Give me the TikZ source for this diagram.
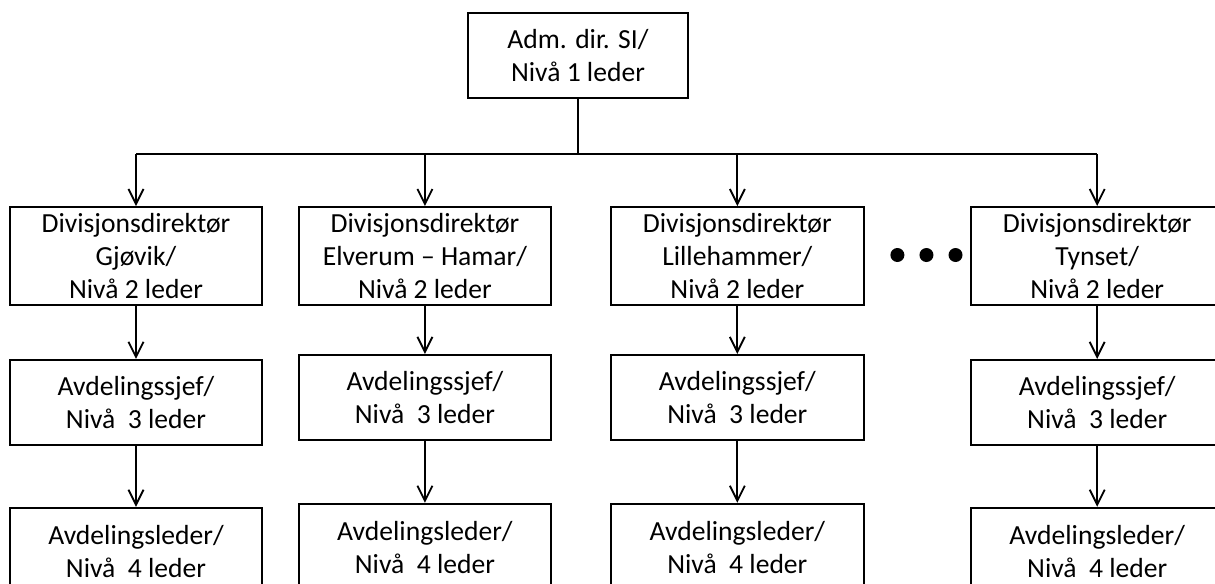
\documentclass[tikz,border=0pt]{standalone}
\usepackage{fontspec}
\setmainfont{Carlito}
\usetikzlibrary{arrows.meta,positioning}

\begin{document}
\begin{tikzpicture}[
    node distance=36pt and 26pt,
    box/.style={rectangle, draw=black, line width=1.4pt, fill=white, align=center, minimum width=189.4pt, font=\fontsize{20.7pt}{24.75pt}\selectfont, inner sep=0pt},
    topbox/.style={box, minimum width=165pt, minimum height=63.75pt},
    divbox/.style={box, minimum height=73.5pt},
    chiefbox/.style={box, minimum height=63.75pt},
    leadbox/.style={box, minimum height=66pt},
    arrow/.style={-{Straight Barb[length=11.25pt, width=11.25pt]}, line width=1.4pt},
    dot/.style={circle, fill=black, inner sep=0pt, minimum size=10.5pt},
]
\useasboundingbox (0,0) rectangle (911.25pt,-437.25pt);
\clip (0,0) rectangle (911.25pt,-437.25pt);
\node[topbox] (top) at (433.5pt,-41.625pt) {Adm. dir. SI/\\Nivå 1 leder};
\node[divbox] (div1) at (102pt,-192pt) {Divisjonsdirektør\\Gjøvik/\\Nivå 2 leder};
\node[divbox, right=25.9pt of div1] (div2) {Divisjonsdirektør\\Elverum – Hamar/\\Nivå 2 leder};
\node[divbox, right=43.5pt of div2] (div3) {Divisjonsdirektør\\Lillehammer/\\Nivå 2 leder};
\node[divbox, right=79.1pt of div3] (div4) {Divisjonsdirektør\\Tynset/\\Nivå 2 leder};
\node[chiefbox, below=39.75pt of div1] (chief1) {Avdelingssjef/\\Nivå\ \ 3 leder};
\node[chiefbox, below=of div2] (chief2) {Avdelingssjef/\\Nivå\ \ 3 leder};
\node[chiefbox, below=of div3] (chief3) {Avdelingssjef/\\Nivå\ \ 3 leder};
\node[chiefbox, below=39.75pt of div4] (chief4) {Avdelingssjef/\\Nivå\ \ 3 leder};
\node[leadbox, below=45.75pt of chief1] (lead1) {Avdelingsleder/\\Nivå\ \ 4 leder};
\node[leadbox, below=46.5pt of chief2] (lead2) {Avdelingsleder/\\Nivå\ \ 4 leder};
\node[leadbox, below=46.5pt of chief3] (lead3) {Avdelingsleder/\\Nivå\ \ 4 leder};
\node[leadbox, below=45.75pt of chief4] (lead4) {Avdelingsleder/\\Nivå\ \ 4 leder};
\node[dot, right=19.2pt of div3, yshift=0.75pt] (dot1) {};
\node[dot, right=10.9pt of dot1] (dot2) {};
\node[dot, right=10.9pt of dot2] (dot3) {};
\coordinate[below=41.25pt of top] (bus);
\draw[line width=1.4pt] (top) -- (bus);
\draw[line width=1.4pt] (div1.north |- bus) -- (div4.north |- bus);
\foreach \n in {1,...,4} {
    \draw[arrow] (div\n.north |- bus) -- (div\n.north);
    \draw[arrow] (div\n) -- (chief\n);
    \draw[arrow] (chief\n) -- (lead\n);
}
\end{tikzpicture}
\end{document}
